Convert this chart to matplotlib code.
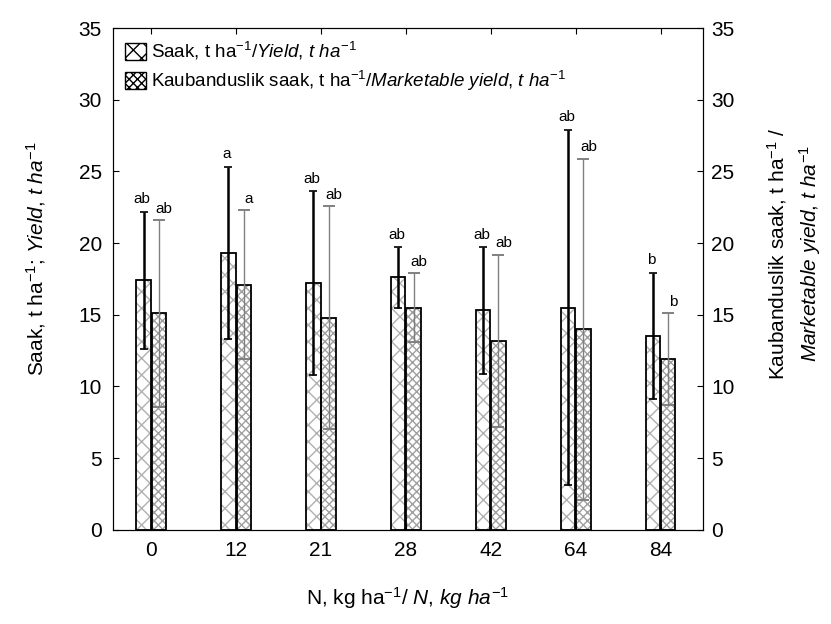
import numpy as np
import matplotlib
matplotlib.use('Agg')
import matplotlib.pyplot as plt
from matplotlib.patches import Patch

plt.rcParams['font.family'] = ['Liberation Sans', 'DejaVu Sans']
plt.rcParams['mathtext.fontset'] = 'custom'
plt.rcParams['mathtext.rm'] = 'Liberation Sans'
plt.rcParams['mathtext.it'] = 'Liberation Sans:italic'
plt.rcParams['hatch.linewidth'] = 1.0

# data
n_levels = ['0', '12', '21', '28', '42', '64', '84']
yield_t = [17.4, 19.3, 17.2, 17.6, 15.3, 15.5, 13.5]
yield_err = [4.8, 6.0, 6.4, 2.1, 4.4, 12.4, 4.4]
market_t = [15.1, 17.1, 14.8, 15.5, 13.2, 14.0, 11.9]
market_err = [6.5, 5.2, 7.8, 2.4, 6.0, 11.9, 3.2]
yield_letters = ['ab', 'a', 'ab', 'ab', 'ab', 'ab', 'b']
market_letters = ['ab', 'a', 'ab', 'ab', 'ab', 'ab', 'b']

lab_yield = r'Saak, t ha$^{-1}$/$\mathit{Yield{,}\ t\ ha}^{-1}$'
lab_market = r'Kaubanduslik saak, t ha$^{-1}$/$\mathit{Marketable\ yield{,}\ t\ ha}^{-1}$'

x = np.arange(len(n_levels))
w = 0.17

fig = plt.figure(figsize=(8.31, 6.24), dpi=100)
ax = fig.add_axes([0.136, 0.151, 0.710, 0.804])

# grey hatch fill first, black outline on top
ax.bar(x - 0.09, yield_t, w, color='white', edgecolor='#b0b0b0', linewidth=0, hatch='xx')
ax.bar(x + 0.09, market_t, w, color='white', edgecolor='#a0a0a0', linewidth=0, hatch='xxxx')
ax.bar(x - 0.09, yield_t, w, fill=False, edgecolor='black', linewidth=1.3)
ax.bar(x + 0.09, market_t, w, fill=False, edgecolor='black', linewidth=1.3)

ax.errorbar(x - 0.09, yield_t, yerr=yield_err, fmt='none', ecolor='black',
            elinewidth=1.8, capsize=3, capthick=1.2)
ax.errorbar(x + 0.09, market_t, yerr=market_err, fmt='none', ecolor='#808080',
            elinewidth=1.0, capsize=4, capthick=1.4)

for i in range(len(x)):
    ax.text(x[i] - 0.11, yield_t[i] + yield_err[i] + 0.4, yield_letters[i],
            ha='center', va='bottom', fontsize=11)
    ax.text(x[i] + 0.15, market_t[i] + market_err[i] + 0.3, market_letters[i],
            ha='center', va='bottom', fontsize=11)

ax.set_xlim(-0.45, 6.5)
ax.set_ylim(0, 35)
ax.set_xticks(x)
ax.set_xticklabels(n_levels)
ax.set_yticks(range(0, 36, 5))
ax.tick_params(direction='in', top=True, labelsize=15, length=4, pad=8)
ax.set_xlabel(r'N, kg ha$^{-1}$/ $\mathit{N{,}\ kg\ ha}^{-1}$', fontsize=15, labelpad=18)
ax.set_ylabel(r'Saak, t ha$^{-1}$; $\mathit{Yield{,}\ t\ ha}^{-1}$', fontsize=15)
ax.yaxis.set_label_coords(-0.11, 0.54)

ax2 = ax.twinx()
ax2.set_ylim(0, 35)
ax2.set_yticks(range(0, 36, 5))
ax2.tick_params(direction='in', labelsize=15, length=4, pad=6)
ax2.set_ylabel('Kaubanduslik saak, t ha$^{-1}$ /\n' + r'$\mathit{Marketable\ yield{,}\ t\ ha}^{-1}$',
               fontsize=15, linespacing=1.4)
ax2.yaxis.set_label_coords(1.105, 0.55)

handles = [Patch(facecolor='white', edgecolor='black', hatch='xx', linewidth=1.0),
           Patch(facecolor='white', edgecolor='black', hatch='xxxx', linewidth=1.0)]
ax.legend(handles, [lab_yield, lab_market], loc='upper left', frameon=False,
          fontsize=13.5, handlelength=1.1, handleheight=1.0, handletextpad=0.3,
          borderaxespad=0.25, labelspacing=0.35)

fig.savefig('out.png', dpi=100)
